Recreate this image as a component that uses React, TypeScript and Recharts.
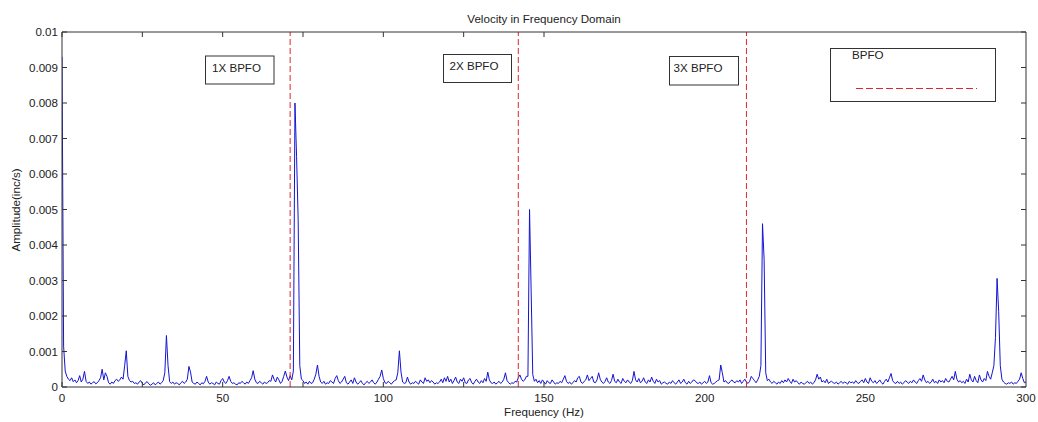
import { LineChart, Line, XAxis, YAxis, ReferenceLine } from 'recharts';

// amplitude spectrum, 0..300 Hz in 0.5 Hz bins, values in 1e-5 inc/s
const FREQ_STEP = 0.5;
const AMP_E5 = [
  930, 115, 45, 30, 22, 18, 26, 15, 20, 12, 18, 32, 14, 22, 44, 16, 10, 14, 8, 12,
  15, 9, 12, 18, 26, 50, 20, 40, 30, 12, 8, 14, 10, 18, 22, 16, 20, 28, 22, 60,
  102, 30, 18, 14, 16, 10, 12, 8, 14, 18, 10, 6, 12, 15, 9, 5, 8, 12, 6, 10,
  14, 8, 12, 18, 40, 145, 60, 15, 10, 14, 8, 12, 10, 6, 12, 16, 10, 14, 22, 58,
  42, 14, 10, 8, 14, 10, 6, 12, 9, 16, 30, 14, 8, 12, 10, 6, 14, 10, 8, 18,
  24, 14, 10, 18, 30, 16, 10, 12, 8, 6, 12, 10, 16, 12, 8, 14, 10, 18, 26, 46,
  22, 12, 10, 16, 12, 8, 14, 10, 12, 18, 16, 34, 22, 14, 28, 20, 10, 16, 30, 45,
  28, 18, 32, 20, 45, 800, 650, 470, 60, 22, 18, 10, 14, 8, 16, 10, 12, 22, 36, 62,
  30, 14, 10, 16, 8, 12, 10, 18, 14, 10, 24, 32, 18, 10, 14, 22, 30, 12, 8, 14,
  20, 10, 26, 14, 8, 12, 18, 10, 6, 12, 16, 10, 14, 20, 12, 8, 14, 22, 30, 48,
  24, 12, 10, 16, 12, 8, 14, 18, 20, 40, 102, 42, 14, 10, 12, 28, 14, 8, 12, 10,
  16, 12, 8, 20, 14, 10, 26, 16, 20, 12, 18, 14, 8, 12, 10, 14, 22, 12, 26, 16,
  30, 14, 22, 10, 18, 28, 14, 10, 22, 16, 26, 12, 10, 20, 24, 12, 8, 16, 22, 14,
  10, 18, 12, 24, 16, 42, 20, 12, 10, 14, 8, 12, 16, 10, 14, 22, 40, 18, 12, 8,
  12, 10, 16, 14, 26, 34, 22, 16, 20, 30, 30, 500, 270, 35, 16, 22, 12, 18, 10, 20,
  14, 8, 18, 12, 10, 20, 14, 8, 12, 10, 16, 12, 22, 32, 16, 10, 14, 8, 12, 18,
  14, 26, 30, 14, 10, 16, 20, 34, 18, 24, 30, 14, 12, 20, 40, 22, 14, 10, 16, 26,
  14, 10, 18, 36, 16, 12, 22, 14, 10, 24, 16, 12, 20, 14, 10, 18, 44, 20, 14, 24,
  12, 16, 26, 14, 10, 20, 14, 28, 16, 10, 22, 14, 18, 8, 12, 14, 10, 8, 14, 10,
  18, 12, 8, 14, 20, 10, 14, 22, 12, 8, 16, 10, 14, 20, 18, 12, 10, 14, 8, 12,
  16, 10, 14, 32, 12, 8, 10, 14, 18, 20, 62, 40, 14, 18, 12, 10, 16, 20, 14, 12,
  18, 14, 20, 10, 16, 22, 14, 10, 16, 30, 24, 18, 12, 20, 30, 60, 460, 360, 40, 18,
  22, 14, 10, 16, 12, 8, 14, 10, 18, 12, 20, 14, 24, 16, 10, 22, 14, 18, 12, 8,
  14, 10, 8, 12, 16, 10, 14, 8, 12, 20, 36, 22, 28, 14, 18, 12, 22, 10, 14, 16,
  12, 10, 14, 8, 12, 16, 10, 14, 12, 8, 16, 12, 14, 10, 18, 12, 10, 16, 20, 12,
  24, 14, 10, 26, 16, 12, 18, 10, 14, 20, 12, 8, 16, 22, 14, 26, 38, 18, 12, 10,
  16, 10, 14, 8, 12, 18, 14, 10, 16, 12, 20, 14, 10, 18, 24, 16, 34, 20, 12, 16,
  10, 14, 22, 12, 16, 10, 20, 14, 18, 12, 24, 16, 14, 22, 30, 20, 44, 22, 14, 18,
  12, 16, 10, 22, 14, 36, 20, 14, 30, 18, 12, 34, 20, 14, 24, 18, 44, 30, 22, 40,
  60, 140, 306, 212, 60, 22, 14, 10, 8, 12, 10, 14, 8, 12, 10, 16, 22, 40, 24, 12,
  14,
];

const BPFO_HZ = [71, 142, 213];
const X_TICKS = [0, 50, 100, 150, 200, 250, 300];
const Y_TICKS = [0, 0.001, 0.002, 0.003, 0.004, 0.005, 0.006, 0.007, 0.008, 0.009, 0.01];

const data = AMP_E5.map((a, i) => ({ f: i * FREQ_STEP, amp: a / 100000 }));

const FONT = '"Liberation Sans", Arial, sans-serif';
const FS = 11.6;
const BOX = '#333';
const tickStyle = { fontSize: FS, fontFamily: FONT, fill: '#222' };
const blank = () => '';

export default function App() {
  return (
    <div style={{ position: 'fixed', left: 0, top: 0, background: '#fff' }}>
      <LineChart width={1038} height={422} data={data} margin={{ top: 32, right: 12, bottom: 5, left: 0 }}>
        <XAxis xAxisId="x" dataKey="f" type="number" domain={[0, 300]} ticks={X_TICKS} allowDataOverflow
          tickLine={false} axisLine={false} tickSize={0} tickMargin={7} height={30} tick={tickStyle} />
        <XAxis xAxisId="xb" type="number" domain={[0, 300]} ticks={X_TICKS} allowDataOverflow mirror height={1}
          tickSize={5} tickFormatter={blank} stroke={BOX} />
        <XAxis xAxisId="xt" orientation="top" type="number" domain={[0, 300]} ticks={X_TICKS} allowDataOverflow
          mirror height={1} tickSize={5} tickFormatter={blank} stroke={BOX} />
        <YAxis yAxisId="y" type="number" domain={[0, 0.01]} ticks={Y_TICKS} allowDataOverflow width={62}
          tickLine={false} axisLine={false} tickSize={0} tickMargin={4} tick={tickStyle}
          tickFormatter={(v: number) => String(v)} />
        <YAxis yAxisId="yl" type="number" domain={[0, 0.01]} ticks={Y_TICKS} allowDataOverflow mirror width={1}
          tickSize={5} tickFormatter={blank} stroke={BOX} />
        <YAxis yAxisId="yr" orientation="right" type="number" domain={[0, 0.01]} ticks={Y_TICKS} allowDataOverflow
          mirror width={1} tickSize={5} tickFormatter={blank} stroke={BOX} />

        <Line xAxisId="x" yAxisId="y" dataKey="amp" type="linear" stroke="#1414d2" strokeWidth={1}
          dot={false} isAnimationActive={false} />

        {BPFO_HZ.map((hz) => (
          <ReferenceLine key={hz} xAxisId="x" yAxisId="y" x={hz} stroke="#e0262f" strokeWidth={1}
            strokeDasharray="6 3" />
        ))}

        <g style={{ fontFamily: FONT, fontSize: FS }} fill="#222">
          <text x={544} y={23} textAnchor="middle">Velocity in Frequency Domain</text>
          <text x={544} y={416} textAnchor="middle">Frequency (Hz)</text>
          <text x={20} y={210} textAnchor="middle" transform="rotate(-90 20 210)">Amplitude(inc/s)</text>

          <rect x={205.5} y={56} width={68.5} height={28} fill="#fff" stroke={BOX} />
          <text x={212} y={72}>1X BPFO</text>
          <rect x={443.5} y={54.5} width={68} height={28} fill="#fff" stroke={BOX} />
          <text x={449.5} y={70}>2X BPFO</text>
          <rect x={669.5} y={56.5} width={69} height={28.5} fill="#fff" stroke={BOX} />
          <text x={673.5} y={72}>3X BPFO</text>

          <rect x={830.5} y={48.5} width={165} height={53} fill="#fff" stroke={BOX} />
          <text x={852} y={58.5}>BPFO</text>
          <line x1={856} y1={88.5} x2={977} y2={88.5} stroke="#e0262f" strokeDasharray="7 3" />
        </g>
      </LineChart>
    </div>
  );
}
